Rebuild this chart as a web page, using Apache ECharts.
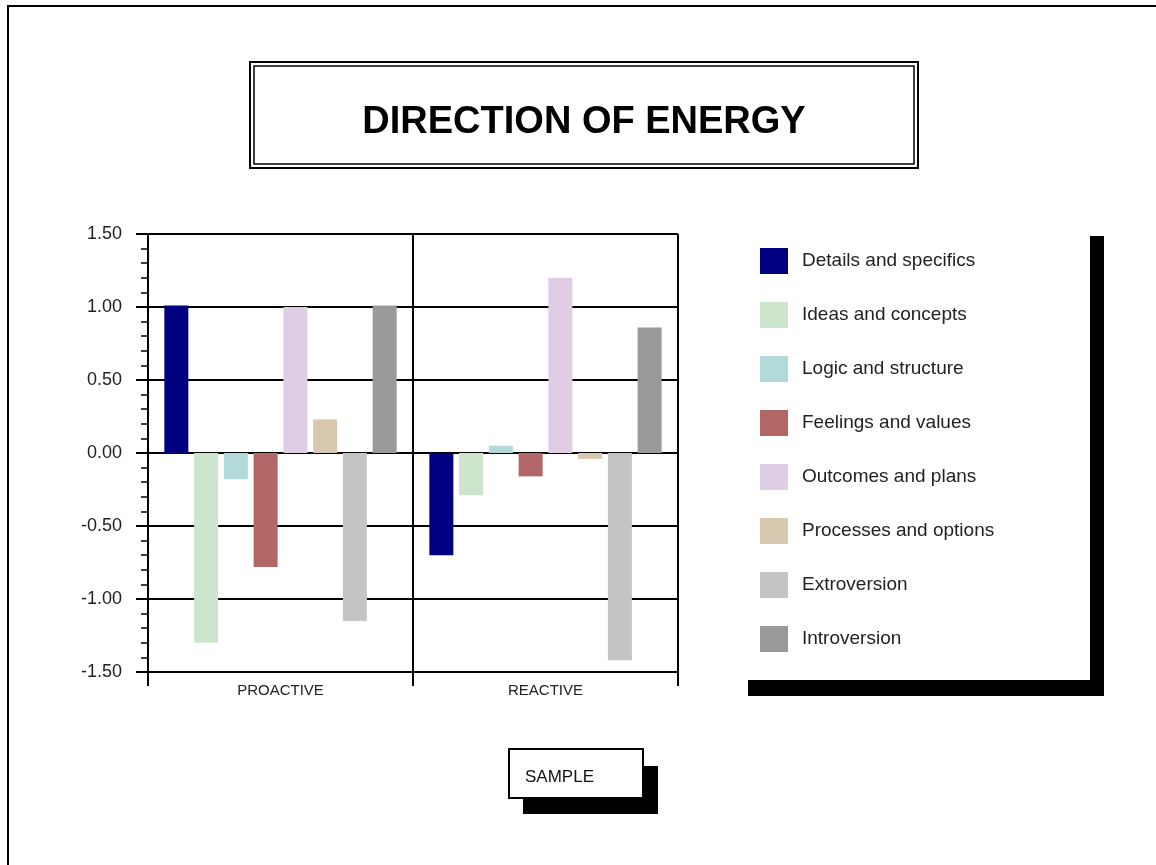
<!DOCTYPE html>
<html>
<head>
<meta charset="utf-8">
<title>Direction of Energy</title>
<script src="https://cdn.jsdelivr.net/npm/echarts@6/dist/echarts.min.js"></script>
<style>
  html, body { margin: 0; padding: 0; background: #fff; }
  #chart { width: 1156px; height: 865px; }
</style>
</head>
<body>
<div id="chart"></div>
<script>
// Groups along the x axis
const categories = ['PROACTIVE', 'REACTIVE'];

// Preference names, in legend order
const seriesNames = [
  'Details and specifics',
  'Ideas and concepts',
  'Logic and structure',
  'Feelings and values',
  'Outcomes and plans',
  'Processes and options',
  'Extroversion',
  'Introversion'
];

// Scores per preference: [PROACTIVE, REACTIVE]
const detailsValues   = [1.01, -0.70];
const ideasValues     = [-1.30, -0.29];
const logicValues     = [-0.18, 0.05];
const feelingsValues  = [-0.78, -0.16];
const outcomesValues  = [1.00, 1.20];
const processesValues = [0.23, -0.04];
const extroValues     = [-1.15, -1.42];
const introValues     = [1.01, 0.86];

const seriesValues = [
  detailsValues, ideasValues, logicValues, feelingsValues,
  outcomesValues, processesValues, extroValues, introValues
];

const seriesColors = [
  '#000080', '#CDE5CD', '#B3DADA', '#B36666',
  '#DFCDE5', '#D8C8B0', '#C4C4C4', '#999999'
];

const yTicks = { min: -1.5, max: 1.5, interval: 0.5 };

const FONT = '"Liberation Sans", Arial, sans-serif';

const chart = echarts.init(document.getElementById('chart'), null, { renderer: 'canvas' });

const series = seriesNames.map((name, i) => ({
  name: name,
  type: 'bar',
  data: seriesValues[i],
  barWidth: 24,
  barGap: '24%',
  itemStyle: { color: seriesColors[i] },
  emphasis: { disabled: true }
}));

chart.setOption({
  animation: false,
  backgroundColor: '#ffffff',
  grid: { left: 148, right: 478, top: 234, bottom: 193, containLabel: false },
  xAxis: {
    type: 'category',
    data: categories,
    axisLine: { onZero: false, lineStyle: { color: '#000', width: 2 } },
    axisTick: { show: true, length: 14, lineStyle: { color: '#000', width: 2 } },
    splitLine: { show: true, lineStyle: { color: '#000', width: 2 } },
    axisLabel: { fontSize: 15, color: '#222', margin: 11, fontFamily: FONT }
  },
  yAxis: {
    type: 'value',
    min: yTicks.min,
    max: yTicks.max,
    interval: yTicks.interval,
    axisLine: { show: true, lineStyle: { color: '#000', width: 2 } },
    axisTick: { show: true, length: 12, lineStyle: { color: '#000', width: 2 } },
    minorTick: { show: true, splitNumber: 5, length: 7, lineStyle: { color: '#000', width: 1.5 } },
    splitLine: { show: true, lineStyle: { color: '#000', width: 2 } },
    axisLabel: {
      fontSize: 18, color: '#222', margin: 26, fontFamily: FONT,
      formatter: v => v.toFixed(2)
    }
  },
  legend: {
    orient: 'vertical',
    left: 755,
    top: 243,
    itemWidth: 28,
    itemHeight: 26,
    itemGap: 28,
    icon: 'rect',
    selectedMode: false,
    data: seriesNames,
    textStyle: { fontSize: 19, color: '#222', fontFamily: FONT, padding: [0, 0, 0, 9] },
    z: 10
  },
  graphic: [
    // page frame (top and left edges)
    { type: 'polyline', z: 1, shape: { points: [[8, 865], [8, 6], [1156, 6]] },
      style: { stroke: '#000', lineWidth: 2, fill: null } },
    // title double frame
    { type: 'rect', z: 1, shape: { x: 250, y: 62, width: 668, height: 106 },
      style: { fill: '#fff', stroke: '#000', lineWidth: 2 } },
    { type: 'rect', z: 2, shape: { x: 254, y: 66, width: 660, height: 98 },
      style: { fill: '#fff', stroke: '#000', lineWidth: 1.5 } },
    { type: 'text', z: 3, x: 584, y: 123,
      style: { text: 'DIRECTION OF ENERGY', fill: '#000', font: 'bold 38px ' + FONT,
               textAlign: 'center', textVerticalAlign: 'middle' } },
    // legend panel with drop shadow
    { type: 'rect', z: 1, shape: { x: 748, y: 236, width: 356, height: 460 },
      style: { fill: '#000' } },
    { type: 'rect', z: 2, shape: { x: 734, y: 220, width: 356, height: 460 },
      style: { fill: '#fff' } },
    // sample tag with drop shadow
    { type: 'rect', z: 1, shape: { x: 523, y: 766, width: 135, height: 48 },
      style: { fill: '#000' } },
    { type: 'rect', z: 2, shape: { x: 509, y: 749, width: 134, height: 49 },
      style: { fill: '#fff', stroke: '#000', lineWidth: 2 } },
    { type: 'text', z: 3, x: 525, y: 777,
      style: { text: 'SAMPLE', fill: '#111', font: '17px ' + FONT,
               textAlign: 'left', textVerticalAlign: 'middle' } }
  ],
  series: series
});
</script>
</body>
</html>
